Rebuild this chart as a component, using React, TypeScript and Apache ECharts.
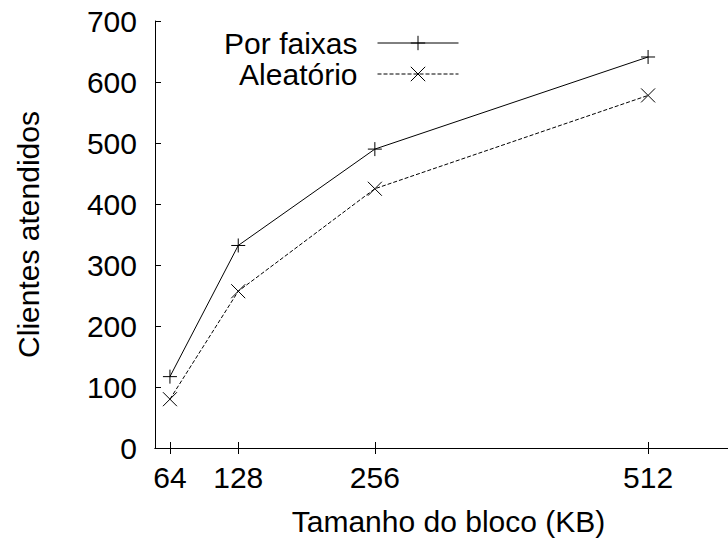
import React, { useEffect, useRef } from "react";
import * as echarts from "echarts";

// Block sizes (KB) on the x axis
const blockSizes = [64, 128, 256, 512];
// Clients served per striping policy
const porFaixas = [117, 332, 490, 641];
const aleatorio = [80, 257, 425, 578];
const yTicks = [0, 100, 200, 300, 400, 500, 600, 700];

const FONT = "'Liberation Sans', Arial, Helvetica, sans-serif";
const PLUS = "path://M0,-1 L0,1 M-1,0 L1,0";
const CROSS = "path://M-1,-1 L1,1 M-1,1 L1,-1";
const DASH = [4, 2];

export default function App() {
  const ref = useRef<HTMLDivElement>(null);

  useEffect(() => {
    if (!ref.current) return;
    const chart = echarts.init(ref.current, null, { renderer: "svg" });

    const text = { color: "#000", fontFamily: FONT, fontSize: 30 };
    const axisLine = { show: true, lineStyle: { color: "#000", width: 1 } };
    const tick = (vals: number[]) => ({
      show: true,
      inside: true,
      length: 6,
      customValues: vals,
      lineStyle: { color: "#000", width: 1 },
    });

    const legendBase = {
      orient: "vertical" as const,
      align: "right" as const,
      right: 283,
      itemWidth: 81,
      itemHeight: 18,
      padding: 0,
      selectedMode: false,
      textStyle: { ...text, padding: [0, 15, 0, 0] },
      itemStyle: { color: "#000", borderColor: "#000", borderWidth: 1 },
    };

    chart.setOption({
      animation: false,
      backgroundColor: "#fff",
      textStyle: { fontFamily: FONT },
      legend: [
        {
          ...legendBase,
          top: 28,
          data: ["Por faixas"],
          lineStyle: { color: "#000", width: 1, type: "solid" },
        },
        {
          ...legendBase,
          top: 59,
          data: ["Aleatório"],
          lineStyle: { color: "#000", width: 1, type: DASH },
        },
      ],
      // the plot's right border lies just past the visible page edge
      grid: { left: 155, right: 0, top: 21, bottom: 94, containLabel: false },
      xAxis: [
        {
          type: "value",
          min: 50,
          max: 600,
          position: "bottom",
          splitLine: { show: false },
          axisLine,
          axisTick: tick(blockSizes),
          axisLabel: { ...text, margin: 14, customValues: blockSizes },
          name: "Tamanho do bloco (KB)",
          nameLocation: "middle",
          nameGap: 58,
          nameTextStyle: text,
        },
        {
          type: "value",
          min: 50,
          max: 600,
          position: "top",
          splitLine: { show: false },
          axisLine,
          axisTick: tick(blockSizes),
          axisLabel: { show: false },
        },
      ],
      yAxis: [
        {
          type: "value",
          min: 0,
          max: 700,
          interval: 100,
          position: "left",
          splitLine: { show: false },
          axisLine,
          axisTick: tick(yTicks),
          axisLabel: { ...text, margin: 18 },
          name: "Clientes atendidos",
          nameLocation: "middle",
          nameGap: 112,
          nameTextStyle: text,
        },
        {
          type: "value",
          min: 0,
          max: 700,
          interval: 100,
          position: "right",
          splitLine: { show: false },
          axisLine,
          axisTick: tick(yTicks),
          axisLabel: { show: false },
        },
      ],
      series: [
        {
          name: "Por faixas",
          type: "line",
          data: blockSizes.map((x, i) => [x, porFaixas[i]]),
          symbol: PLUS,
          symbolSize: 14,
          color: "#000",
          lineStyle: { color: "#000", width: 1, type: "solid" },
          itemStyle: { color: "#000", borderColor: "#000", borderWidth: 1 },
        },
        {
          name: "Aleatório",
          type: "line",
          data: blockSizes.map((x, i) => [x, aleatorio[i]]),
          symbol: CROSS,
          symbolSize: 14,
          color: "#000",
          lineStyle: { color: "#000", width: 1, type: DASH },
          itemStyle: { color: "#000", borderColor: "#000", borderWidth: 1 },
        },
      ],
    });

    return () => chart.dispose();
  }, []);

  return (
    <div
      style={{
        position: "fixed",
        left: 0,
        top: 0,
        width: 728,
        height: 542,
        overflow: "hidden",
        background: "#fff",
      }}
    >
      <div ref={ref} style={{ width: 742, height: 542 }} />
    </div>
  );
}
